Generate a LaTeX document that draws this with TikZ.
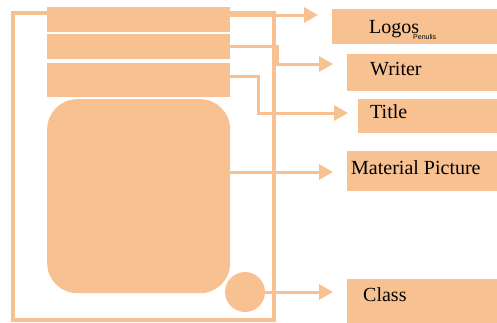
\documentclass[tikz,border=0pt]{standalone}
\usepackage{fontspec}
\setmainfont{Liberation Serif}
\newfontfamily\tagfont{Liberation Serif}
\newfontfamily\smallfont{Liberation Sans}
\usetikzlibrary{arrows.meta}
\definecolor{peach}{RGB}{248,193,145}

\begin{document}
\begin{tikzpicture}[x=1pt,y=-1pt,
 frame/.style={draw=peach,line width=4pt},
 bar/.style={fill=peach,inner sep=0pt,anchor=north west,minimum width=183pt},
 tag/.style={fill=peach,inner sep=0pt,anchor=north west,minimum width=180pt},
 txt/.style={anchor=base west,inner sep=0pt,font=\tagfont\fontsize{20}{24}\selectfont},
 link/.style={draw=peach,line width=3pt,-{Triangle[length=14pt,width=15pt]}}]
\useasboundingbox (0,0) rectangle (497,322);
\draw[frame] (12.5,13) rectangle (273.5,320);
% cover parts
\foreach \nm/\bary/\barh in {logobar/7/25,writerbar/34/25,titlebar/63/34}
  \node[bar,minimum height=\barh pt] (\nm) at (47,\bary) {};
\node[bar,minimum height=194pt,rounded corners=30pt] (pic) at (47,99) {};
\node[circle,fill=peach,inner sep=0pt,minimum size=40pt] (dot) at (245,292) {};
% right hand tags
\foreach \nm/\tagx/\tagy/\tagh in {logos/332/9/35,writer/347/54/37,title/358/99/34,
  material/347/151/40,class/347/279/45}
  \node[tag,minimum height=\tagh pt] (\nm) at (\tagx,\tagy) {};
\node[txt] (logostxt) at (369,33)
  {Logos\hspace{-6pt}\raisebox{-6pt}{\smallfont\fontsize{7}{8}\selectfont Penulis}};
\node[txt] (writertxt) at (370,75) {Writer};
\node[txt] (titletxt) at (370,118) {Title};
\node[txt] (materialtxt) at (351,174) {Material Picture};
\node[txt] (classtxt) at (363,301) {Class};
% arrows
\coordinate (logotip) at (318,15);
\coordinate (writertip) at (333,64);
\coordinate (titletip) at (348,113);
\coordinate (mattip) at (333,172);
\coordinate (classtip) at (333,292);
\draw[link] (logobar.east |- logotip) -- (logotip);
\draw[link] (writerbar.east) -- ++(47,0) |- (writertip);
\draw[link] ([yshift=4pt]titlebar.east) -- ++(28,0) |- (titletip);
\draw[link] (pic.east |- mattip) -- (mattip);
\draw[link] (dot.east) -- (classtip);
\end{tikzpicture}
\end{document}
